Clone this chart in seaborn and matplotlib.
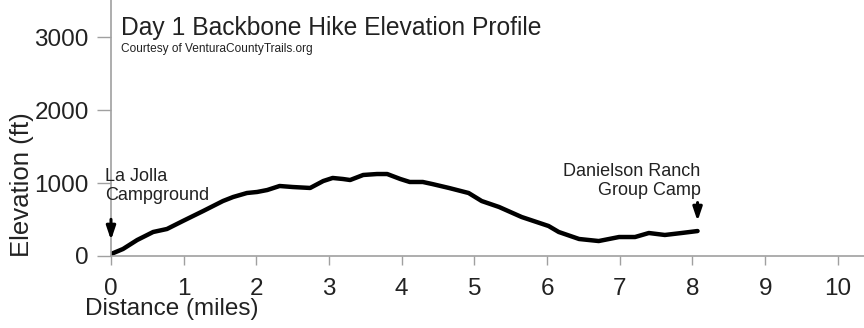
import matplotlib
matplotlib.use("Agg")
import matplotlib.pyplot as plt
import seaborn as sns
import pandas as pd

distance_mi = [0.0, 0.165, 0.36, 0.58, 0.77, 0.99, 1.27, 1.54, 1.68, 1.87, 2.01, 2.15,
               2.32, 2.50, 2.74, 2.92, 3.05, 3.19, 3.29, 3.47, 3.66, 3.80, 3.98, 4.11,
               4.29, 4.42, 4.65, 4.92, 5.10, 5.34, 5.65, 6.02, 6.16, 6.44, 6.71, 6.99,
               7.21, 7.40, 7.62, 7.85, 8.07]
elevation_ft = [27, 96, 219, 329, 370, 480, 617, 753, 808, 863, 877, 904,
                959, 945, 932, 1027, 1069, 1055, 1041, 1110, 1123, 1123, 1055, 1014,
                1014, 986, 932, 863, 753, 671, 534, 411, 329, 233, 205, 260,
                260, 315, 288, 315, 342]
x_ticks = [0, 1, 2, 3, 4, 5, 6, 7, 8, 9, 10]
y_ticks = [0, 1000, 2000, 3000]
title = "Day 1 Backbone Hike Elevation Profile"
subtitle = "Courtesy of VenturaCountyTrails.org"
start_label = "La Jolla\nCampground"
end_label = "Danielson Ranch\nGroup Camp"

df = pd.DataFrame({"Distance": distance_mi, "Elevation": elevation_ft})

sns.set_style("white")
plt.rcParams["font.family"] = ["Liberation Sans", "DejaVu Sans"]
TXT = "#222222"
AX = "#a0a0a0"

fig = plt.figure(figsize=(8.64, 3.28), dpi=100)
ax = fig.add_axes([111 / 864, 72 / 328, 1 - 111 / 864, 256 / 328])

sns.lineplot(data=df, x="Distance", y="Elevation", ax=ax, color="black",
             linewidth=3.2, solid_capstyle="round", solid_joinstyle="round")

ax.set_xlim(0, 10.36)
ax.set_ylim(0, 3507)
ax.set_xticks(x_ticks)
ax.set_yticks(y_ticks)
ax.tick_params(axis="x", length=6.5, width=1, color=AX, pad=9, labelsize=17.5, labelcolor=TXT)
ax.tick_params(axis="y", length=10, width=1, color=AX, pad=6, labelsize=17.5, labelcolor=TXT)
ax.tick_params(left=True, bottom=True)
for s in ["top", "right"]:
    ax.spines[s].set_visible(False)
for s in ["left", "bottom"]:
    ax.spines[s].set_color(AX)
    ax.spines[s].set_linewidth(1.2)

ax.set_xlabel("Distance (miles)", fontsize=17.5, color=TXT)
ax.set_ylabel("Elevation (ft)", fontsize=18.5, color=TXT)
ax.xaxis.set_label_coords((172 - 111) / 753, -0.165)
ax.yaxis.set_label_coords(-0.102, 0.28)

fig.text(121 / 864, 1 - 28 / 328, title, fontsize=17.7, color=TXT, va="center", ha="left")
fig.text(121 / 864, 1 - 49 / 328, subtitle, fontsize=8.6, color=TXT, va="center", ha="left")

# Arrows
ax.annotate("", xy=(distance_mi[0], 180), xytext=(distance_mi[0], 540),
            arrowprops=dict(arrowstyle="-|>,head_length=0.8,head_width=0.27",
                            color="black", lw=2.2), annotation_clip=False)
ax.annotate("", xy=(distance_mi[-1], 440), xytext=(distance_mi[-1], 770),
            arrowprops=dict(arrowstyle="-|>,head_length=0.8,head_width=0.27",
                            color="black", lw=2.2), annotation_clip=False)

ax.text(-0.08, (256 - 200) * 13.7, start_label, fontsize=13, color=TXT,
        ha="left", va="baseline", linespacing=1.15)
ax.text(8.11, (256 - 195) * 13.7, end_label, fontsize=13, color=TXT,
        ha="right", va="baseline", linespacing=1.15, multialignment="right")

fig.savefig("out.png", dpi=100, facecolor="white")
